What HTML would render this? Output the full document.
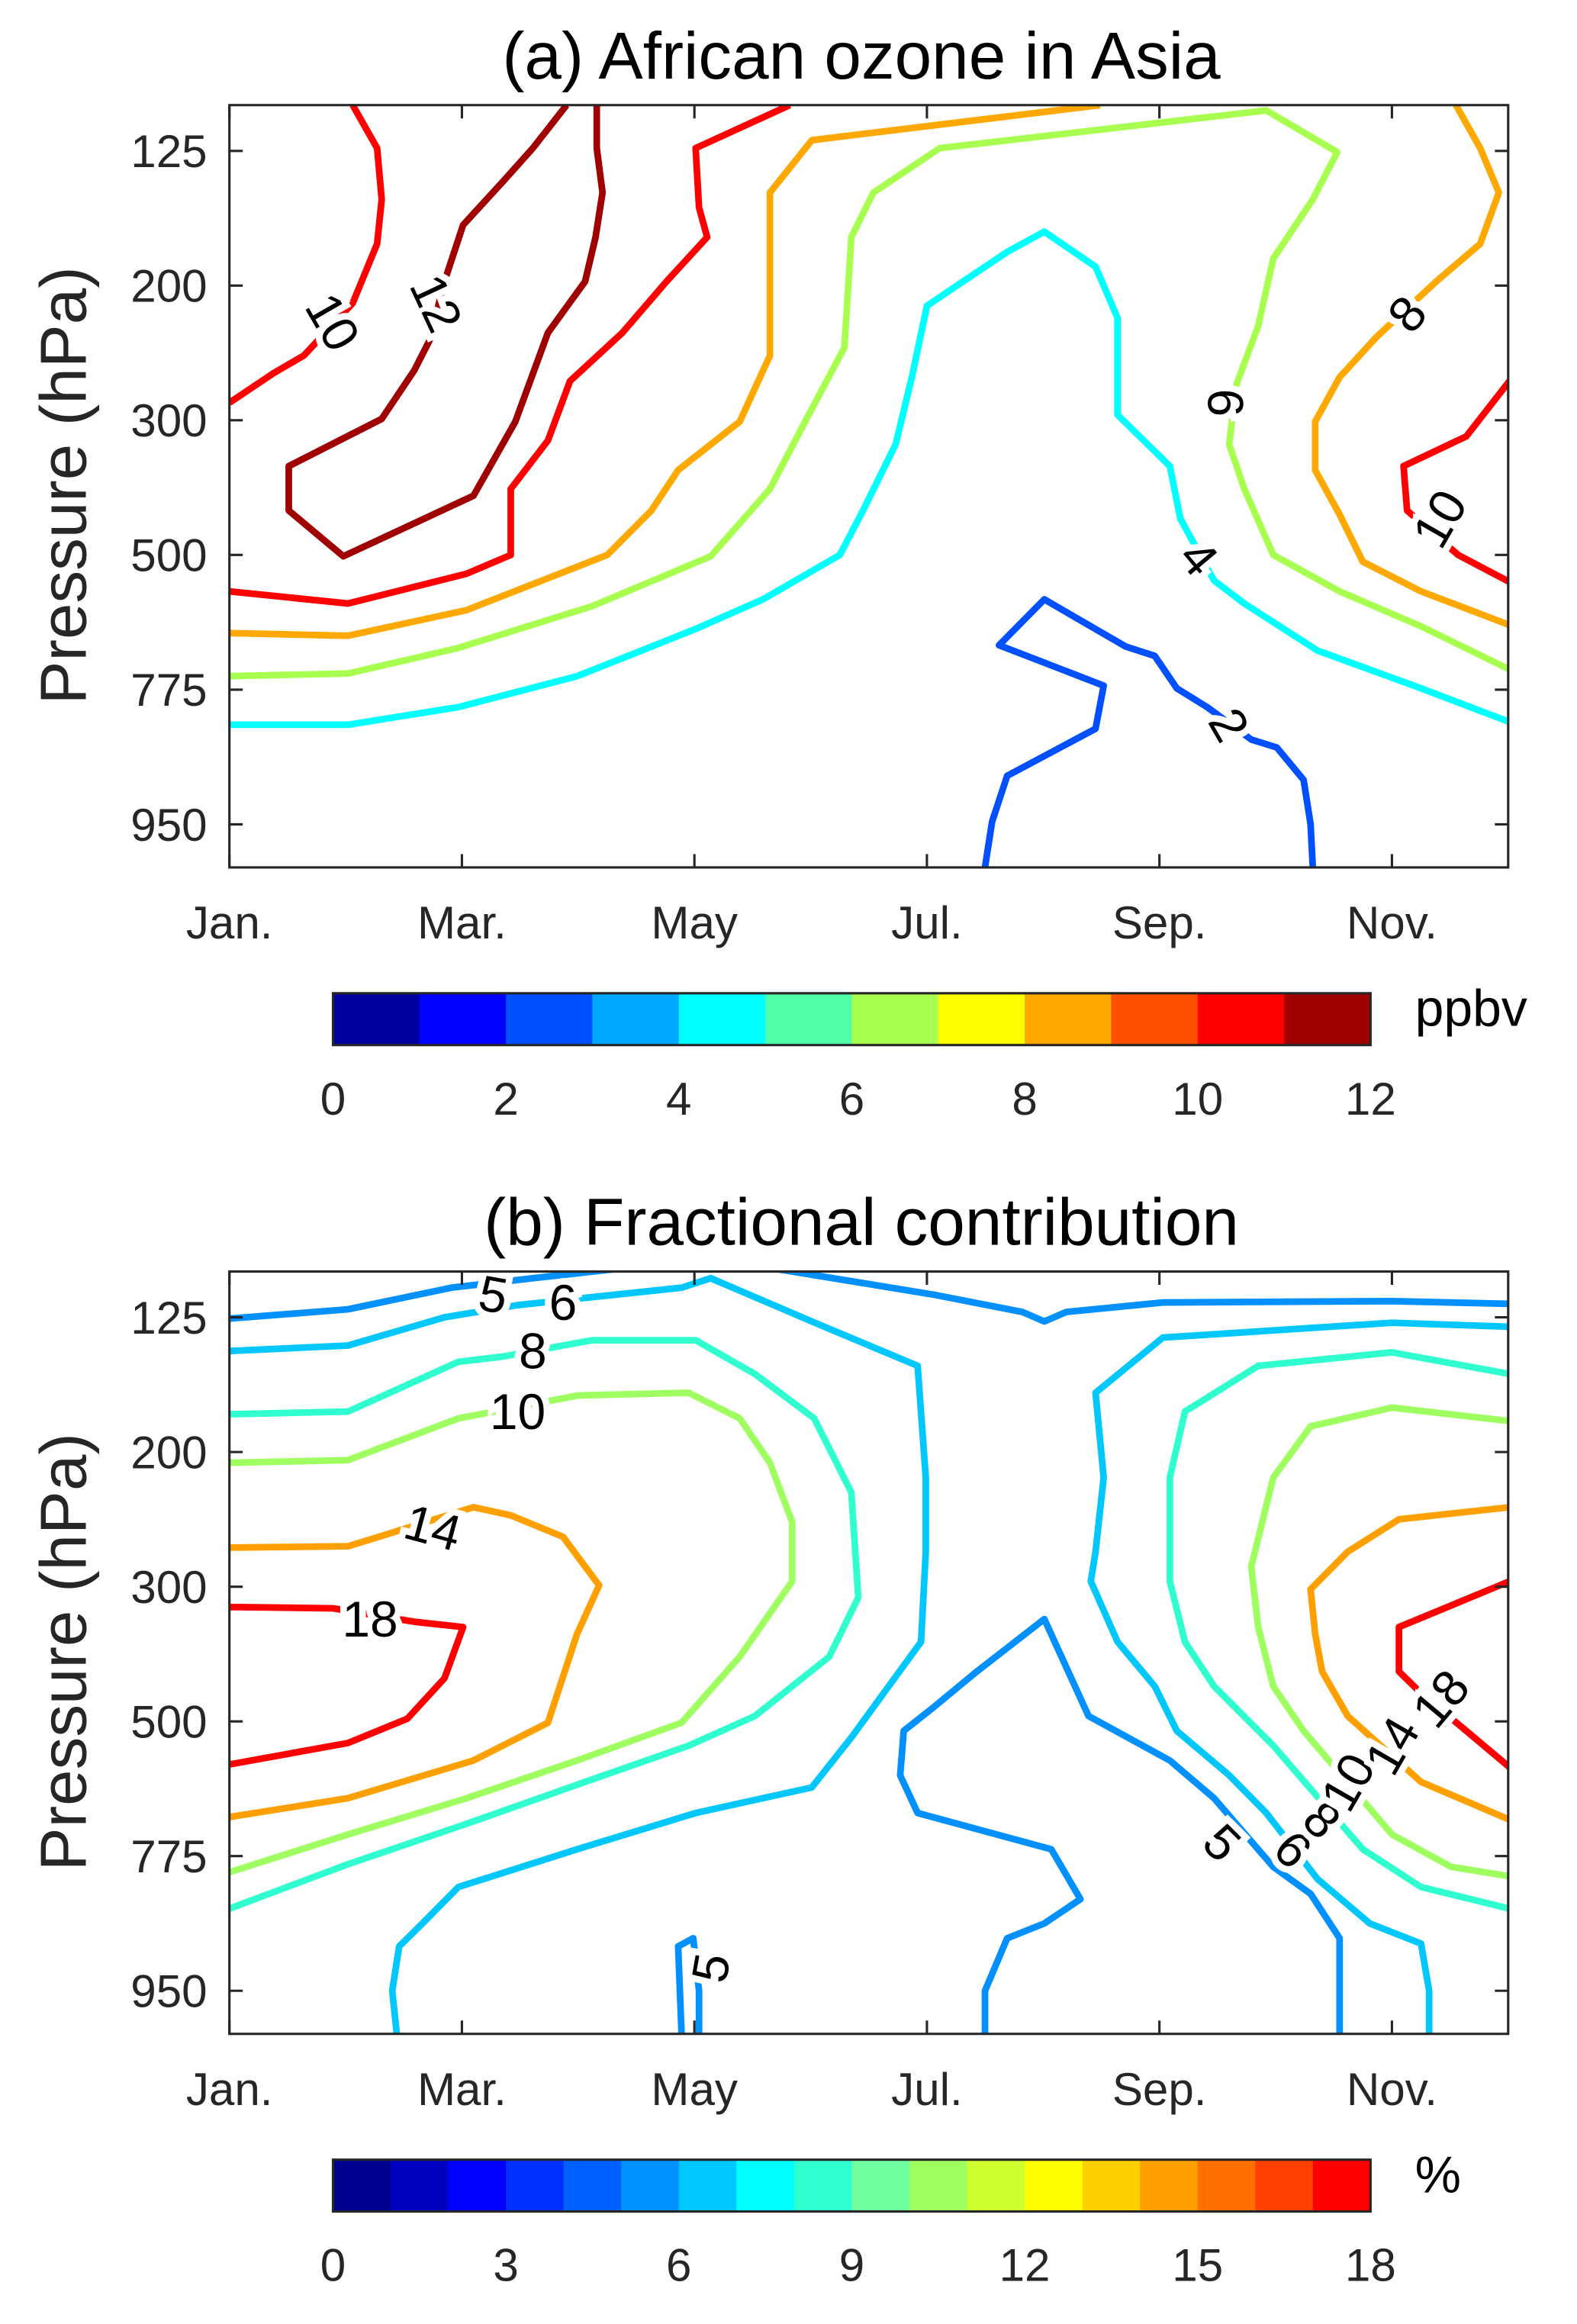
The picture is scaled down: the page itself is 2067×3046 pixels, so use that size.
<!DOCTYPE html>
<html><head><meta charset="utf-8"><style>
html,body{margin:0;padding:0;background:#fff;}
svg{display:block;font-family:"Liberation Sans",Arial,sans-serif;}
</style></head><body>
<svg id="fig" width="2067" height="3046" viewBox="0 0 1065.5 1570" preserveAspectRatio="none" xmlns="http://www.w3.org/2000/svg"></svg>
<script>
// ---- data ----
const monthTicks = [0,2,4,6,8,10];
const monthLabels = ["Jan.","Mar.","May","Jul.","Sep.","Nov."];
const levelTicks = [0,1,2,3,4,5];
const pressureLabels = ["125","200","300","500","775","950"];
const cbarATicks = [0,2,4,6,8,10,12];
const cbarBTicks = [0,3,6,9,12,15,18];
const cbarAColors = ["#0000a0","#0000ff","#0050ff","#00a8ff","#00ffff","#50ffa8","#a8ff50","#ffff00","#ffa800","#ff5000","#ff0000","#a00000"];
const cbarBColors = ["#00008f","#0000c0","#0000ff","#0030ff","#0060ff","#0090ff","#00c8ff","#00ffff","#30ffd0","#70ffa0","#a0ff60","#d0ff30","#ffff00","#ffd000","#ffa000","#ff7000","#ff4000","#ff0000"];

// panel a contours: [month index, level index]
const a12 = [[2.90,-0.34],[2.61,-0.02],[2.36,0.22],[2.01,0.55],[1.85,0.97],[1.72,1.41],[1.59,1.63],[1.31,1.99],[0.51,2.34],[0.51,2.67],[0.98,3.01],[2.10,2.56],[2.46,2.01],[2.74,1.35],[3.06,0.97],[3.15,0.64],[3.21,0.31],[3.16,-0.02],[3.16,-0.34]];
const a10a = [[1.06,-0.34],[1.27,-0.02],[1.31,0.36],[1.27,0.69],[1.06,1.13],[0.64,1.52],[0.38,1.65],[0,1.87]];
const a10b = [[4.82,-0.34],[4.01,-0.02],[4.04,0.42],[4.11,0.64],[3.76,0.97],[3.38,1.35],[2.93,1.71],[2.74,2.15],[2.42,2.51],[2.42,3.00],[2.04,3.14],[1.02,3.36],[0,3.27]];
const a10c = [[11.01,1.71],[10.64,2.12],[10.10,2.34],[10.13,2.67],[10.57,3.00],[11.01,3.20]];
const a8a = [[7.49,-0.34],[5.01,-0.08],[4.65,0.31],[4.65,0.86],[4.65,1.52],[4.39,2.01],[3.86,2.37],[3.63,2.67],[3.25,3.00],[2.04,3.41],[1.02,3.60],[0,3.58]];
const a8b = [[10.55,-0.34],[10.76,-0.02],[10.92,0.31],[10.76,0.69],[10.38,0.97],[9.87,1.38],[9.55,1.68],[9.34,2.01],[9.34,2.37],[9.55,2.70],[9.75,3.05],[10.25,3.27],[11.01,3.52]];
const a6 = [[0,3.90],[1.02,3.88],[1.97,3.69],[3.12,3.38],[4.14,3.01],[4.65,2.51],[4.97,1.98],[5.29,1.46],[5.35,0.64],[5.54,0.31],[6.11,-0.02],[8.92,-0.30],[9.53,0.01],[9.32,0.36],[8.98,0.80],[8.85,1.30],[8.66,1.74],[8.60,2.18],[8.73,2.51],[8.98,3.00],[9.55,3.27],[10.25,3.53],[11.01,3.85]];
const a4 = [[0,4.26],[1.02,4.26],[1.97,4.13],[2.99,3.90],[4.01,3.55],[4.59,3.33],[5.25,3.00],[5.45,2.67],[5.73,2.18],[5.87,1.68],[6.00,1.15],[6.31,0.97],[6.69,0.75],[7.01,0.60],[7.45,0.86],[7.64,1.24],[7.64,1.96],[8.09,2.34],[8.18,2.73],[8.47,3.19],[8.73,3.36],[9.36,3.71],[10.25,3.99],[11.01,4.24]];
const a2 = [[6.50,5.32],[6.56,4.98],[6.69,4.64],[7.45,4.29],[7.52,3.97],[7.01,3.80],[6.62,3.67],[7.01,3.33],[7.71,3.68],[7.96,3.75],[8.15,3.99],[8.41,4.13],[8.79,4.37],[9.01,4.43],[9.24,4.67],[9.30,5.00],[9.32,5.32]];
const aLines = [[a12,"#a00000"],[a10a,"#ff0000"],[a10b,"#ff0000"],[a10c,"#ff0000"],[a8a,"#ffa800"],[a8b,"#ffa800"],[a6,"#a8ff50"],[a4,"#00ffff"],[a2,"#0050ff"]];
const aLabels = [["12",1.78,1.13,65],["10",0.89,1.27,60],["10",10.41,2.73,-60],["8",10.13,1.21,-50],["6",8.57,1.87,90],["4",8.34,3.02,50],["2",8.60,4.26,60]];

// panel b contours
const b5a = [[0,0.01],[1.02,-0.06],[1.91,-0.22],[2.61,-0.29],[3.50,-0.375]];
const b5b = [[4.59,-0.375],[6.05,-0.17],[6.82,-0.04],[7.01,0.03],[7.20,-0.04],[8.03,-0.11],[10.00,-0.12],[11.01,-0.10]];
const b5c = [[6.50,5.32],[6.50,5.00],[6.69,4.61],[7.01,4.50],[7.32,4.32],[7.07,3.95],[5.92,3.68],[5.77,3.40],[5.80,3.07],[6.05,2.90],[6.43,2.63],[7.01,2.24],[7.39,2.96],[8.09,3.29],[8.47,3.57],[8.98,4.08],[9.30,4.28],[9.55,4.61],[9.55,5.32]];
const b5d = [[3.89,5.32],[3.86,4.67],[3.99,4.61],[4.04,5.00],[4.04,5.32]];
const b6a = [[0,0.25],[1.02,0.21],[1.85,0],[2.48,-0.09],[3.12,-0.15],[3.89,-0.22],[4.14,-0.29],[5.01,0.03],[5.92,0.36],[5.99,1.19],[5.99,1.74],[5.95,2.41],[5.67,2.74],[5.35,3.12],[5.01,3.49],[4.01,3.68],[2.99,3.95],[1.97,4.23],[1.66,4.50],[1.46,4.67],[1.40,5.00],[1.44,5.32]];
const b6b = [[11.01,0.07],[10.00,0.04],[8.03,0.15],[7.45,0.56],[7.52,1.19],[7.45,1.74],[7.41,1.96],[7.64,2.41],[7.96,2.74],[8.15,3.07],[8.60,3.40],[8.92,3.68],[9.36,4.17],[9.81,4.50],[10.25,4.65],[10.32,5.00],[10.32,5.32]];
const b8a = [[0,0.72],[1.02,0.70],[1.97,0.33],[2.36,0.29],[3.12,0.17],[4.01,0.17],[4.52,0.42],[5.03,0.75],[5.35,1.30],[5.41,2.08],[5.16,2.52],[4.52,2.96],[3.95,3.18],[3.06,3.45],[2.04,3.76],[1.02,4.06],[0,4.39]];
const b8b = [[11.01,0.42],[10.00,0.26],[8.85,0.36],[8.22,0.70],[8.09,1.19],[8.09,1.96],[8.22,2.41],[8.47,2.74],[8.98,3.18],[9.75,3.95],[10.25,4.23],[11.01,4.39]];
const b10a = [[0,1.08],[1.02,1.06],[1.97,0.75],[3.0,0.58],[3.95,0.56],[4.39,0.75],[4.65,1.08],[4.84,1.52],[4.84,1.96],[4.39,2.52],[3.89,3.01],[2.99,3.29],[2.04,3.57],[1.02,3.84],[0,4.12]];
const b10b = [[11.01,0.77],[10.00,0.67],[9.30,0.81],[8.98,1.19],[8.79,1.85],[8.85,2.30],[8.98,2.74],[9.24,3.07],[10.00,3.84],[10.51,4.08],[11.01,4.15]];
const b14a = [[0,1.71],[1.02,1.70],[1.36,1.61],[2.10,1.41],[2.42,1.47],[2.87,1.63],[3.18,1.99],[2.99,2.35],[2.74,3.01],[2.10,3.29],[1.02,3.57],[0,3.71]];
const b14b = [[11.01,1.41],[10.06,1.50],[9.62,1.74],[9.30,2.02],[9.34,2.35],[9.40,2.63],[9.62,2.96],[10.25,3.45],[11.01,3.73]];
const b18a = [[0,2.15],[0.89,2.16],[1.59,2.26],[2.01,2.30],[1.85,2.68],[1.53,2.98],[1.02,3.16],[0,3.32]];
const b18b = [[11.01,1.96],[10.06,2.30],[10.06,2.63],[10.25,2.79],[10.64,3.07],[11.01,3.34]];
const bLines = [[b5a,"#0090ff"],[b5b,"#0090ff"],[b5c,"#0090ff"],[b5d,"#0090ff"],[b6a,"#00c8ff"],[b6b,"#00c8ff"],[b8a,"#30ffd0"],[b8b,"#30ffd0"],[b10a,"#a0ff60"],[b10b,"#a0ff60"],[b14a,"#ffa000"],[b14b,"#ffa000"],[b18a,"#ff0000"],[b18b,"#ff0000"]];
const bLabels = [["5",2.27,-0.17,10],["6",2.87,-0.11,0],["8",2.61,0.25,0],["10",2.48,0.70,0],["14",1.75,1.56,15],["18",1.21,2.24,0],["5",8.54,3.90,45],["6",9.15,3.95,45],["8",9.40,3.73,45],["10",9.62,3.45,-60],["14",10.0,3.18,-60],["18",10.42,2.83,-50],["5",4.14,4.83,-80]];

// ---- drawing ----
const NS="http://www.w3.org/2000/svg";
const svg=document.getElementById('fig');
function el(tag,attrs,parent){const e=document.createElementNS(NS,tag);for(const k in attrs)e.setAttribute(k,attrs[k]);(parent||svg).appendChild(e);return e;}
const X0=155,X1=1019,L0=-0.34,L1=5.32;
function panel(top,title,lines,labels,prefix){
  const bottom=top+515;
  const sx=m=>X0+(m/11)*(X1-X0);
  const sy=l=>top+(l-L0)/(L1-L0)*(bottom-top);
  const g=el('g',{});
  
  
  const cp=el('clipPath',{id:prefix+'clip'},g);
  el('rect',{x:X0,y:top,width:X1-X0,height:bottom-top},cp);
  const lg=el('g',{'clip-path':'url(#'+prefix+'clip)'},g);
  lines.forEach((ln,i)=>{
    const p=el('polyline',{points:ln[0].map(q=>sx(q[0]).toFixed(1)+','+sy(q[1]).toFixed(1)).join(' '),fill:'none',stroke:ln[1],'stroke-width':4.5,'stroke-linejoin':'round'},lg);
    
    
  });
  labels.forEach(lb=>{
    const x=sx(lb[1]),y=sy(lb[2]);
    const t=el('text',{x:x,y:y,'font-size':34,'text-anchor':'middle','dominant-baseline':'central',transform:'rotate('+lb[3]+' '+x+' '+y+')',fill:'#000',stroke:'#fff','stroke-width':9,'paint-order':'stroke'},g);
    t.textContent=lb[0];
    
    
  });
  const box=el('rect',{x:X0,y:top,width:X1-X0,height:bottom-top,fill:'none',stroke:'#262626','stroke-width':1.6},g);
  
  
  monthTicks.forEach((m,i)=>{
    el('line',{x1:sx(m),x2:sx(m),y1:bottom,y2:bottom-9,stroke:'#262626','stroke-width':1.6},g);
    el('line',{x1:sx(m),x2:sx(m),y1:top,y2:top+9,stroke:'#262626','stroke-width':1.6},g);
    const t=el('text',{x:sx(m),y:bottom+48,'font-size':31,'text-anchor':'middle',fill:'#262626'},g);
    t.textContent=monthLabels[i];
    
    
  });
  levelTicks.forEach((l,i)=>{
    el('line',{x1:X0,x2:X0+9,y1:sy(l),y2:sy(l),stroke:'#262626','stroke-width':1.6},g);
    el('line',{x1:X1,x2:X1-9,y1:sy(l),y2:sy(l),stroke:'#262626','stroke-width':1.6},g);
    const t=el('text',{x:140,y:sy(l)+11,'font-size':31,'text-anchor':'end',fill:'#262626'},g);
    t.textContent=pressureLabels[i];
    
    
  });
  const yl=el('text',{x:0,y:0,'font-size':44,'text-anchor':'middle',fill:'#262626',transform:'translate(58 '+(top+257)+') rotate(-90)'},g);
  yl.textContent='Pressure (hPa)';
  
  
  const tt=el('text',{x:582,y:top-18,'font-size':45,'text-anchor':'middle',fill:'#000'},g);
  tt.textContent=title;
  
  
}
function cbar(top,colors,ticks,vmax,unit,prefix){
  const x0=225,x1=926,h=35;
  const cx=v=>x0+v/vmax*(x1-x0);
  const g=el('g',{});
  
  
  const n=colors.length;
  colors.forEach((c,i)=>{
    const r=el('rect',{x:cx(i*vmax/n),y:top,width:(x1-x0)/n+0.5,height:h,fill:c},g);
    
    
  });
  el('rect',{x:x0,y:top,width:x1-x0,height:h,fill:'none',stroke:'#262626','stroke-width':1.6},g);
  ticks.forEach(v=>{
    const t=el('text',{x:cx(v),y:top+82,'font-size':31,'text-anchor':'middle',fill:'#262626'},g);
    t.textContent=v;
    
    
  });
  const u=el('text',{x:x1+30,y:top+22,'font-size':35,fill:'#000'},g);
  u.textContent=unit;
  
  
}
panel(71,'(a) African ozone in Asia',aLines,aLabels,'a');
panel(859,'(b) Fractional contribution',bLines,bLabels,'b');
cbar(671,cbarAColors,cbarATicks,12,'ppbv','a');
cbar(1459,cbarBColors,cbarBTicks,18,'%','b');
</script>
</body></html>
